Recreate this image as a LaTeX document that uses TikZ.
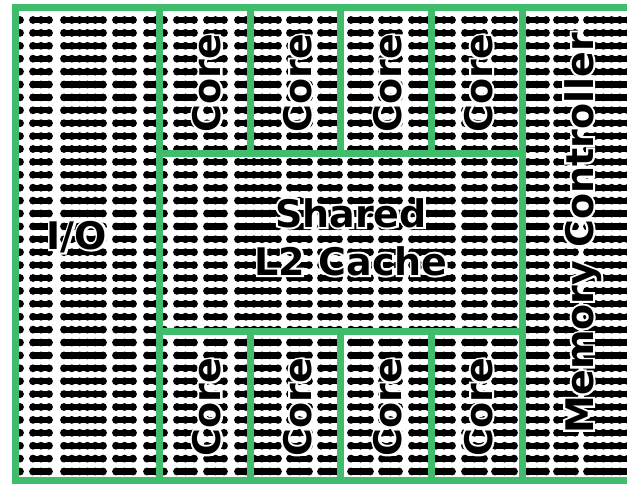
\documentclass[tikz,border=0pt]{standalone}
\usepackage{fontspec}
\setmainfont{DejaVu Sans}
\newfontface\halofont{DejaVu Sans Bold}[FakeBold=11]
\definecolor{diegreen}{RGB}{63,188,108}
\tikzset{
  wall/.style={draw=diegreen, line width=7pt},
  blobcore/.style={draw=black, line width=6.2pt, line cap=round},
  lbl/.style={font=\fontsize{38}{46}\selectfont\bfseries, inner sep=0pt, anchor=base},
  halo/.style={font=\halofont\fontsize{38}{46}\selectfont, text=white, inner sep=0pt, anchor=base},
}
\newcommand\halolabel[4]{%
  \node[halo, rotate=#3] at (#2) {#4};%
  \node[lbl, rotate=#3] (#1) at (#2) {#4};}
\begin{document}
\begin{tikzpicture}[x=1pt,y=-1pt]
\useasboundingbox (0,0) rectangle (627,483);
\fill[white] (0,0) rectangle (627,483);
\begin{scope}
  \clip (15.5,7.5) rectangle (700,480);
  \foreach \k in {0,...,35}{
    \pgfmathsetmacro\yy{20+12.9*\k}
    \foreach \a/\b/\n in {0/24/3,29/53/3,60/107/6,112/137/3,143/168/3,173/198/3,203/228/3,234/282/6,286/313/3,317/343/3,347/374/3,378/403/3,408/456/6,461/488/3,491/518/3,524/550/3,553/579/3,583/632/6}{
      \pgfmathsetmacro\pp{(\b-\a-8)/(\n-1)}
      \pgfmathtruncatemacro\mm{\n-1}
      \draw[blobcore] (\a+4,\yy) -- (\b-4,\yy);
      \foreach \i in {0,...,\mm}{
        \fill[black] (\a+4+\i*\pp,\yy) circle[radius=3.9];
      }
    }
  }
\end{scope}
\draw[wall] (15.5,7.5) rectangle (700,480);
\draw[wall] (159.5,7.5) -- (159.5,480);
\draw[wall] (522.5,7.5) -- (522.5,480);
\draw[wall] (159.5,153) -- (522.5,153);
\draw[wall] (159.5,331) -- (522.5,331);
\foreach \x in {250.5,340.5,431}{
  \draw[wall] (\x,7.5) -- (\x,153);
  \draw[wall] (\x,331) -- (\x,480);
}
\halolabel{io}{77,249}{0}{I/O}
\halolabel{shared}{351,227}{0}{Shared}
\halolabel{cache}{351,275}{0}{L2 Cache}
\halolabel{c1}{220.5,83}{90}{Core}
\halolabel{c2}{311,83}{90}{Core}
\halolabel{c3}{401.5,83}{90}{Core}
\halolabel{c4}{492,83}{90}{Core}
\halolabel{c5}{220.5,407}{90}{Core}
\halolabel{c6}{311,407}{90}{Core}
\halolabel{c7}{401.5,407}{90}{Core}
\halolabel{c8}{492,407}{90}{Core}
\halolabel{mc}{593,233}{90}{Memory Controller}
\end{tikzpicture}
\end{document}
